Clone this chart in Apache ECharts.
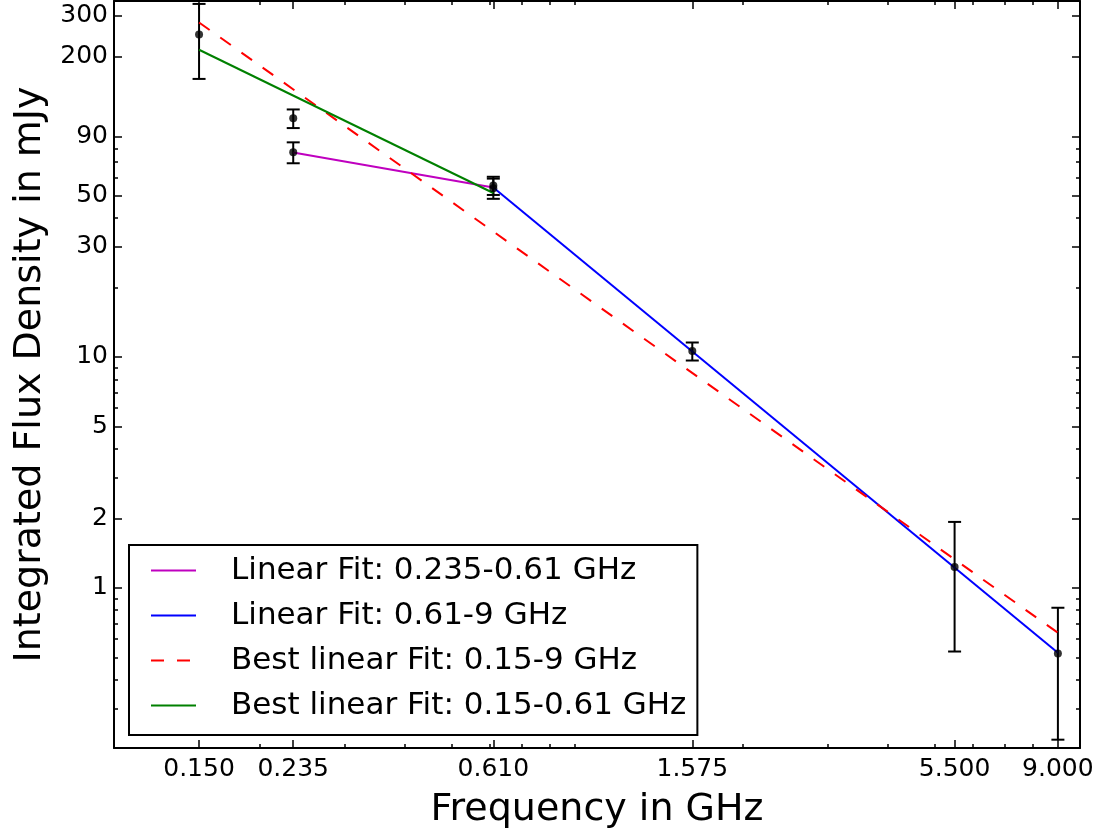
<!DOCTYPE html>
<html>
<head>
<meta charset="utf-8">
<script src="https://cdn.jsdelivr.net/npm/echarts@6/dist/echarts.min.js"></script>
<style>
  html, body { margin: 0; padding: 0; background: #fff; }
  #chart { width: 1101px; height: 836px; }
</style>
</head>
<body>
<div id="chart"></div>
<script>
// axis ranges (GHz, mJy)
const xMin = 0.1, xMax = 10
const yMin = 0.2025, yMax = 348

// tick positions
const freqTicks = [0.15, 0.235, 0.61, 1.575, 5.5, 9.0]
const freqMinor = [0.2, 0.3, 0.4, 0.5, 0.6, 0.7, 0.8, 0.9, 2, 3, 4, 5, 6, 7, 8, 9]
const fluxTicks = [1, 2, 5, 10, 30, 50, 90, 200, 300]
const fluxMinor = [0.3, 0.4, 0.5, 0.6, 0.7, 0.8, 0.9, 2, 3, 4, 5, 6, 7, 8, 9,
  20, 30, 40, 50, 60, 70, 80, 90, 200, 300]

// measured flux densities with errors
const pointFreq = [0.15, 0.235, 0.235, 0.61, 0.61, 1.575, 5.5, 9.0]
const pointFlux = [249, 108, 77, 55.3, 53.8, 10.6, 1.23, 0.52]
const pointErr = [89, 10, 8, 5.0, 5.4, 0.95, 0.70, 0.30]

// fit lines (end points)
const fitNames = [
  'Linear Fit: 0.235-0.61 GHz',
  'Linear Fit: 0.61-9 GHz',
  'Best linear Fit: 0.15-9 GHz',
  'Best linear Fit: 0.15-0.61 GHz',
]
const fitFreq = [[0.235, 0.61], [0.61, 9.0], [0.15, 9.0], [0.15, 0.61]]
const fitFlux = [[76.9, 54.2], [54.2, 0.523], [281, 0.639], [214, 51.3]]
const fitColors = ['#bf00bf', '#0000ff', '#ff0000', '#008000']
const fitDash = ['solid', 'solid', [13, 13], 'solid']

const FONT = 'DejaVu Sans'
const lg = Math.log10

function nearest(list, v) {
  let best = list[0]
  list.forEach((t) => { if (Math.abs(lg(t) - v) < Math.abs(lg(best) - v)) best = t })
  return best
}

function tickAxis(position, lo, hi, values, len, extra) {
  return Object.assign({
    type: 'value',
    position: position,
    min: lg(lo),
    max: lg(hi),
    axisLine: { show: false, onZero: false },
    axisTick: {
      show: true, inside: true, length: len,
      customValues: values.map(lg),
      lineStyle: { color: '#000', width: 1.5 },
    },
    axisLabel: { show: false },
    splitLine: { show: false },
    nameMoveOverlap: false,
  }, extra || {})
}

const axisLineStyle = { show: true, onZero: false, lineStyle: { color: '#000', width: 2 } }

const xAxes = [
  tickAxis('bottom', xMin, xMax, freqTicks, 8, {
    axisLine: axisLineStyle,
    name: 'Frequency in GHz',
    nameLocation: 'middle',
    nameGap: 43,
    nameTextStyle: { fontFamily: FONT, fontSize: 38, color: '#000' },
    axisLabel: {
      show: true, margin: 9,
      customValues: freqTicks.map(lg),
      fontFamily: FONT, fontSize: 25, color: '#000',
      formatter: (v) => nearest(freqTicks, v).toFixed(3),
    },
  }),
  tickAxis('bottom', xMin, xMax, freqMinor, 4),
  tickAxis('top', xMin, xMax, freqTicks, 8, { axisLine: axisLineStyle }),
  tickAxis('top', xMin, xMax, freqMinor, 4),
]

const yAxes = [
  tickAxis('left', yMin, yMax, fluxTicks, 8, {
    axisLine: axisLineStyle,
    name: 'Integrated Flux Density in mJy',
    nameLocation: 'middle',
    nameGap: 65,
    nameTextStyle: { fontFamily: FONT, fontSize: 38, color: '#000' },
    axisLabel: {
      show: true, margin: 6,
      customValues: fluxTicks.map(lg),
      fontFamily: FONT, fontSize: 25, color: '#000',
      formatter: (v) => String(nearest(fluxTicks, v)),
    },
  }),
  tickAxis('left', yMin, yMax, fluxMinor, 4),
  tickAxis('right', yMin, yMax, fluxTicks, 8, { axisLine: axisLineStyle }),
  tickAxis('right', yMin, yMax, fluxMinor, 4),
]

const errData = pointFreq.map((f, i) => [lg(f), lg(pointFlux[i] - pointErr[i]), lg(pointFlux[i] + pointErr[i])])
const dotData = pointFreq.map((f, i) => [lg(f), lg(pointFlux[i])])

const fitSeries = fitNames.map((name, i) => ({
  name: name,
  type: 'line',
  data: fitFreq[i].map((f, j) => [lg(f), lg(fitFlux[i][j])]),
  symbol: 'none',
  lineStyle: { color: fitColors[i], width: 2, type: fitDash[i] },
  itemStyle: { color: fitColors[i] },
  z: 3,
  silent: true,
}))

const option = {
  animation: false,
  backgroundColor: '#fff',
  grid: { left: 114, right: 21, top: 1, bottom: 88, containLabel: false, outerBoundsMode: 'none' },
  xAxis: xAxes,
  yAxis: yAxes,
  legend: {
    data: fitNames,
    orient: 'vertical',
    left: 129,
    top: 545,
    padding: [10, 11, 14, 21],
    itemWidth: 45,
    itemHeight: 14,
    itemGap: 14,
    backgroundColor: '#fff',
    borderColor: '#000',
    borderWidth: 2,
    borderRadius: 0,
    itemStyle: { opacity: 0 },
    selectedMode: false,
    formatter: (name) => '{t|' + name + '}',
    textStyle: {
      fontFamily: FONT, fontSize: 31, color: '#000',
      rich: { t: { fontFamily: FONT, fontSize: 31, color: '#000', lineHeight: 34, padding: [0, 0, 0, 30] } },
    },
  },
  series: [
    {
      type: 'custom',
      data: errData,
      encode: { x: 0, y: [1, 2] },
      z: 2,
      silent: true,
      renderItem: (params, api) => {
        const x = api.value(0)
        const top = api.coord([x, api.value(2)])
        const bot = api.coord([x, api.value(1)])
        const hw = 6.5
        const st = { stroke: '#000', lineWidth: 2 }
        return {
          type: 'group',
          children: [
            { type: 'line', shape: { x1: top[0], y1: top[1], x2: bot[0], y2: bot[1] }, style: st },
            { type: 'line', shape: { x1: top[0] - hw, y1: top[1], x2: top[0] + hw, y2: top[1] }, style: st },
            { type: 'line', shape: { x1: bot[0] - hw, y1: bot[1], x2: bot[0] + hw, y2: bot[1] }, style: st },
          ],
        }
      },
    },
    {
      type: 'scatter',
      data: dotData,
      symbolSize: 8,
      itemStyle: { color: '#000' },
      z: 4,
      silent: true,
    },
    ...fitSeries,
  ],
}

const chart = echarts.init(document.getElementById('chart'))
chart.setOption(option)
</script>
</body>
</html>
